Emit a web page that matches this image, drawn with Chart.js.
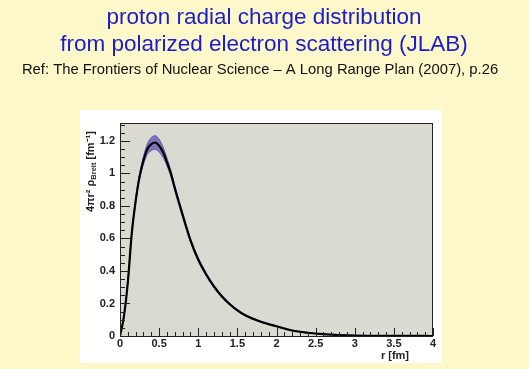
<!DOCTYPE html>
<html>
<head>
<meta charset="utf-8">
<script src="https://cdn.jsdelivr.net/npm/chart.js"></script>
<style>
  body { margin: 0; background: #fdf8c9; }
  canvas { display: block; }
</style>
</head>
<body>
<canvas id="rhoChart" width="529" height="369"></canvas>
<script>
const radius = [0, 0.05, 0.1, 0.15, 0.2, 0.25, 0.3, 0.35, 0.4, 0.45, 0.5, 0.55, 0.6, 0.65, 0.7, 0.8, 0.9, 1.0, 1.1, 1.2, 1.3, 1.4, 1.5, 1.6, 1.8, 2.0, 2.2, 2.4, 2.6, 2.8, 3.0, 3.5, 4.0];
const rhoCentral = [0, 0.12, 0.33, 0.63, 0.83, 0.98, 1.08, 1.15, 1.18, 1.19, 1.17, 1.13, 1.07, 1.0, 0.91, 0.745, 0.59, 0.47, 0.38, 0.305, 0.245, 0.197, 0.158, 0.128, 0.088, 0.06, 0.034, 0.02, 0.011, 0.006, 0.003, 0.001, 0];
const rhoUpper = [0, 0.122, 0.335, 0.638, 0.842, 0.996, 1.104, 1.182, 1.22, 1.232, 1.21, 1.162, 1.094, 1.018, 0.926, 0.758, 0.601, 0.48, 0.389, 0.313, 0.252, 0.203, 0.163, 0.132, 0.091, 0.063, 0.036, 0.022, 0.012, 0.007, 0.004, 0.001, 0];
const rhoLower = [0, 0.118, 0.325, 0.622, 0.818, 0.964, 1.056, 1.118, 1.14, 1.148, 1.13, 1.098, 1.046, 0.982, 0.894, 0.732, 0.579, 0.46, 0.371, 0.297, 0.238, 0.191, 0.153, 0.124, 0.085, 0.057, 0.032, 0.018, 0.01, 0.005, 0.002, 0.001, 0];
const xTicks = [0, 0.5, 1, 1.5, 2, 2.5, 3, 3.5, 4];
const yTicks = [0, 0.2, 0.4, 0.6, 0.8, 1, 1.2];

const toPoints = (ys) => radius.map((r, i) => ({x: r, y: ys[i]}));

const FONT = '"Liberation Sans", Arial, sans-serif';

// page decoration, ROOT style inside ticks and titles
const rootFrame = {
  id: 'rootFrame',
  beforeDraw(chart) {
    const c = chart.ctx;
    const a = chart.chartArea;
    c.save();
    c.fillStyle = '#fdf8c9';
    c.fillRect(0, 0, chart.width, chart.height);
    c.fillStyle = '#ffffff';
    c.fillRect(80, 110, 362, 253);
    c.fillStyle = '#dadad2';
    c.fillRect(a.left, a.top, a.right - a.left, a.bottom - a.top);
    c.restore();
  },
  afterDraw(chart) {
    const c = chart.ctx;
    const a = chart.chartArea;
    const xs = chart.scales.x, ys = chart.scales.y;
    c.save();
    c.strokeStyle = '#222';
    c.lineWidth = 1;
    c.strokeRect(a.left + 0.5, a.top + 0.5, a.right - a.left - 1, a.bottom - a.top);
    c.beginPath();
    for (let i = 0; i <= 40; i++) {
      const v = i / 10;
      const px = Math.round(xs.getPixelForValue(v)) + 0.5;
      const len = (i % 5 === 0) ? 8 : 4;
      c.moveTo(px, a.bottom);
      c.lineTo(px, a.bottom - len);
    }
    for (let i = 0; i <= 26; i++) {
      const v = i * 0.05;
      const py = Math.round(ys.getPixelForValue(v)) + 0.5;
      const len = (i % 4 === 0) ? 10 : 5;
      c.moveTo(a.left, py);
      c.lineTo(a.left + len, py);
    }
    c.stroke();

    c.textAlign = 'center';
    c.textBaseline = 'middle';
    c.fillStyle = '#1c1ccc';
    c.font = '22.5px ' + FONT;
    c.fillText('proton radial charge distribution', 264, 18);
    c.fillText('from polarized electron scattering (JLAB)', 264, 45);
    c.fillStyle = '#111';
    c.font = '14.8px ' + FONT;
    c.fillText('Ref: The Frontiers of Nuclear Science \u2013 A Long Range Plan (2007), p.26', 260, 70);

    c.font = 'bold 11px ' + FONT;
    c.fillStyle = '#222';
    c.textAlign = 'right';
    c.fillText('r [fm]', 409, 356);

    // rotated y title
    c.translate(91, 212);
    c.rotate(-Math.PI / 2);
    c.textAlign = 'left';
    let x = 0;
    const part = (t, font, dy) => {
      c.font = font;
      c.fillText(t, x, dy);
      x += c.measureText(t).width;
    };
    part('4\u03c0r\u00b2 \u03c1', 'bold 11px ' + FONT, 0);
    part('Breit', 'bold 7.5px ' + FONT, 3);
    part(' [fm\u207b\u00b9]', 'bold 11px ' + FONT, 0);
    c.restore();
  }
};

const config = {
  type: 'line',
  data: {
    datasets: [
      {
        label: 'upper',
        data: toPoints(rhoUpper),
        borderColor: 'rgba(70,60,170,0.75)',
        borderWidth: 1,
        backgroundColor: 'rgba(85,75,180,0.7)',
        fill: '+1',
        pointRadius: 0,
        order: 2,
        cubicInterpolationMode: 'monotone'
      },
      {
        label: 'lower',
        data: toPoints(rhoLower),
        borderColor: 'rgba(70,60,170,0.75)',
        borderWidth: 1,
        fill: false,
        pointRadius: 0,
        order: 2,
        cubicInterpolationMode: 'monotone'
      },
      {
        label: 'rho',
        data: toPoints(rhoCentral),
        borderColor: '#000',
        borderWidth: 2.2,
        fill: false,
        pointRadius: 0,
        order: 0,
        cubicInterpolationMode: 'monotone'
      }
    ]
  },
  options: {
    responsive: false,
    animation: false,
    layout: {
      padding: {left: 0, top: 123, right: 96, bottom: 0}
    },
    plugins: {
      legend: {display: false},
      tooltip: {enabled: false}
    },
    scales: {
      x: {
        type: 'linear',
        min: 0,
        max: 4,
        border: {display: false},
        grid: {display: false, drawTicks: false},
        afterBuildTicks(scale) {
          scale.ticks = xTicks.map(v => ({value: v}));
        },
        afterFit(scale) { scale.height = 33; },
        ticks: {
          padding: 1,
          maxRotation: 0,
          color: '#222',
          font: {family: FONT, size: 11, weight: 'bold'},
          callback: (v) => String(v)
        }
      },
      y: {
        min: 0,
        max: 1.31,
        border: {display: false},
        grid: {display: false, drawTicks: false},
        afterBuildTicks(scale) {
          scale.ticks = yTicks.map(v => ({value: v}));
        },
        afterFit(scale) { scale.width = 120; },
        ticks: {
          padding: 5,
          color: '#222',
          font: {family: FONT, size: 11, weight: 'bold'},
          callback: (v) => String(v)
        }
      }
    }
  },
  plugins: [rootFrame]
};

const rhoChart = new Chart(document.getElementById('rhoChart'), config);
</script>
</body>
</html>
